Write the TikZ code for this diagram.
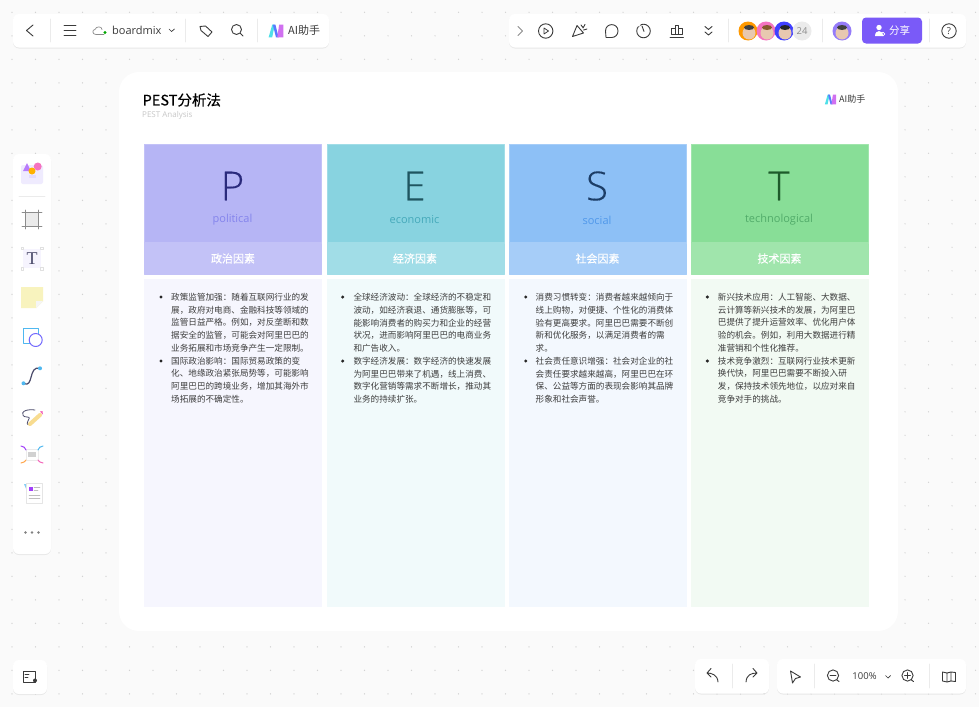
\documentclass[tikz,border=0pt]{standalone}
\usepackage{fontspec}
\setmainfont{Noto Sans CJK SC}
\newfontfamily\medfont[FakeBold=0.35]{Noto Sans CJK SC}
\newfontfamily\bigfont[UprightFont=* Light,FakeBold=0.2]{Open Sans}
\newfontfamily\latinfont{Open Sans}
\newfontfamily\slabfont{Liberation Serif}
\usetikzlibrary{shadows}
\definecolor{colP}{HTML}{B6B5F5}\definecolor{colPlight}{HTML}{C3C2F7}\definecolor{colPbody}{HTML}{F6F6FE}\definecolor{colPbig}{HTML}{2A2A7C}\definecolor{colPsub}{HTML}{8484EC}
\definecolor{colE}{HTML}{88D3E0}\definecolor{colElight}{HTML}{A1DDE7}\definecolor{colEbody}{HTML}{F1FAFB}\definecolor{colEbig}{HTML}{1F5560}\definecolor{colEsub}{HTML}{45A9BA}
\definecolor{colS}{HTML}{8DC0F6}\definecolor{colSlight}{HTML}{A6CDF8}\definecolor{colSbody}{HTML}{F3F8FE}\definecolor{colSbig}{HTML}{1C3D66}\definecolor{colSsub}{HTML}{5098EA}
\definecolor{colT}{HTML}{88DE97}\definecolor{colTlight}{HTML}{A0E5AC}\definecolor{colTbody}{HTML}{F2FAF3}\definecolor{colTbig}{HTML}{1E5A2B}\definecolor{colTsub}{HTML}{52AC6A}
\definecolor{canvas}{HTML}{FAFAFA}\definecolor{griddot}{HTML}{D2D2D2}\definecolor{ink}{HTML}{3A3A3A}\definecolor{violet}{HTML}{7A5AF8}
\definecolor{slate}{HTML}{4A4A6A}\definecolor{sky}{HTML}{4FB8F0}\definecolor{skin}{HTML}{E8C8B0}\definecolor{sticky}{HTML}{F8F3BE}\definecolor{pen}{HTML}{F8DC90}
\definecolor{logoA}{HTML}{4FE0E8}\definecolor{logoB}{HTML}{5A78FF}\definecolor{logoC}{HTML}{D070F0}
\tikzset{ailogo/.pic={
  \fill[logoA] (-7,6) -- (-3.6,-6) -- (-1.2,-6) -- (-3.6,6) -- cycle;
  \fill[logoB] (-3,-6) -- (-0.5,-6) -- (2.5,6) -- (0,6) -- cycle;
  \fill[logoC] (1.2,6) -- (3,-6) -- (7,-6) -- (7,6) -- cycle;
}}
\begin{document}
\begin{tikzpicture}[x=1pt,y=-1pt,line cap=round,line join=round]
\tikzstyle{bar}=[fill=white,rounded corners=6pt,drop shadow={shadow xshift=0pt,shadow yshift=-1pt,opacity=.07,fill=black}]
\tikzstyle{icon}=[draw=ink,line width=.9pt]
\tikzstyle{sep}=[draw=black!8,line width=.6pt]
\tikzstyle{headbox}=[draw=col\k light,line width=.8pt,inner sep=0pt,anchor=north west,minimum width=177pt]
\tikzstyle{bodytext}=[anchor=north west,inner sep=0pt,align=left,text=black!76,font=\fontsize{8.6}{12.75}\selectfont]
\useasboundingbox (0,0) rectangle (979,707);
\fill[canvas] (0,0) rectangle (979,707);
\foreach \i in {0,...,41}
	\foreach \j in {0,...,29}
		\fill[griddot] (12+23.5*\i,12.3+23.5*\j) circle (.7pt);
\fill[white,rounded corners=20pt] (119,72) rectangle (898,631);
\node[anchor=west,inner sep=0pt,font=\fontsize{14.5}{15}\medfont] (title) at (142.5,100) {PEST分析法};
\node[anchor=west,inner sep=0pt,text=black!22,font=\fontsize{8}{8}\latinfont] (subtitle) at (142,115.5) {PEST Analysis};
\pic[scale=.8] at (830.5,99.5) {ailogo};
\node[anchor=west,inner sep=0pt,font=\fontsize{9}{9}\selectfont,text=ink] (brand) at (839,99.5) {AI助手};
\foreach \k/\x/\cx/\sub/\cn in {P/144/233/political/政治因素,E/326.7/415/economic/经济因素,S/509/597.5/social/社会因素,T/691/779.5/technological/技术因素}{
	\node[headbox,fill=col\k,minimum height=98pt] (head\k) at (\x,144.3) {};
	\node[headbox,fill=col\k light,minimum height=31pt] (band\k) at (\x,243) {};
	\fill[col\k body] (\x,279.3) rectangle (\x+178,607);
	\node[text=col\k big,font=\fontsize{40}{40}\bigfont,inner sep=0pt] (letter\k) at (\cx-.5,186) {\k};
	\node[text=col\k sub,font=\fontsize{11}{11}\latinfont,inner sep=0pt] (sub\k) at (\cx-.5,220) {\sub};
	\node[text=white,font=\fontsize{11}{11}\medfont,inner sep=0pt] (cn\k) at (\cx,258.5) {\cn};
}
\node[bodytext] (textP) at (171,293) {政策监管加强：随着互联网行业的发\\展，政府对电商、金融科技等领域的\\监管日益严格。例如，对反垄断和数\\据安全的监管，可能会对阿里巴巴的\\业务拓展和市场竞争产生一定限制。\\国际政治影响：国际贸易政策的变\\化、地缘政治紧张局势等，可能影响\\阿里巴巴的跨境业务，增加其海外市\\场拓展的不确定性。};
\node[bodytext] (textE) at (353.3,293) {全球经济波动：全球经济的不稳定和\\波动，如经济衰退、通货膨胀等，可\\能影响消费者的购买力和企业的经营\\状况，进而影响阿里巴巴的电商业务\\和广告收入。\\数字经济发展：数字经济的快速发展\\为阿里巴巴带来了机遇，线上消费、\\数字化营销等需求不断增长，推动其\\业务的持续扩张。};
\node[bodytext] (textS) at (535.5,293) {消费习惯转变：消费者越来越倾向于\\线上购物，对便捷、个性化的消费体\\验有更高要求。阿里巴巴需要不断创\\新和优化服务，以满足消费者的需\\求。\\社会责任意识增强：社会对企业的社\\会责任要求越来越高，阿里巴巴在环\\保、公益等方面的表现会影响其品牌\\形象和社会声誉。};
\node[bodytext] (textT) at (717.7,293) {新兴技术应用：人工智能、大数据、\\云计算等新兴技术的发展，为阿里巴\\巴提供了提升运营效率、优化用户体\\验的机会。例如，利用大数据进行精\\准营销和个性化推荐。\\技术竞争激烈：互联网行业技术更新\\换代快，阿里巴巴需要不断投入研\\发，保持技术领先地位，以应对来自\\竞争对手的挑战。};
\foreach \x in {161,342.7,525.7,707.3}
	\foreach \y in {297,361}
		\fill[black!85] (\x,\y) circle (1.7pt);
\fill[bar] (13,14) rectangle (329,47.5);
\fill[bar] (509,14) rectangle (966,47.5);
\fill[bar] (13,154) rectangle (51,554);
\fill[bar] (13,660) rectangle (47,694);
\fill[bar] (695,659) rectangle (769,693.5);
\fill[bar] (777,659) rectangle (966,693.5);
\foreach \x in {50.5,185.5,257.5,728.5,822.5,929}
	\draw[sep] (\x,19) -- (\x,42);
\foreach \x in {732,814.5,929}
	\draw[sep] (\x,664) -- (\x,688);
\draw[sep] (19,196.3) -- (45,196.3);
\draw[icon] (33,25) -- (26.5,30.5) -- (33,36);
\draw[icon] (64,25.5) -- (76,25.5) (64,30.5) -- (76,30.5) (64,35.5) -- (76,35.5);
\draw[draw=black!45,line width=.7pt] (104,34.5) -- (96,34.5) .. controls (92,34.5) and (92,29.5) .. (95,29.5) .. controls (96,26) and (102,26) .. (102,29.5);
\fill[green!65!black] (105,32.5) circle (1.7pt);
\node[anchor=west,inner sep=0pt,text=ink,font=\fontsize{11}{12}\latinfont] (boardmix) at (112,30.5) {boardmix};
\draw[icon,line width=.7pt] (169,29) -- (171.5,31.5) -- (174.5,29);
\draw[icon] (200,26.5) -- (205.5,26) -- (212,32) -- (208,36.5) -- (201,30.5) -- cycle;
\draw[icon] (236.5,29.5) circle (5pt) (240.5,33.5) -- (243,36);
\pic[scale=1.05] at (276,31) {ailogo};
\node[anchor=west,inner sep=0pt,text=ink,font=\fontsize{11}{11}\selectfont] (assistant) at (288,30.5) {AI助手};
\draw[draw=black!45,line width=.8pt] (518,26.5) -- (522.5,31) -- (518,35.5);
\draw[icon] (545.7,31) circle (7.2pt);
\draw[icon,line width=.8pt] (544,28) -- (548.5,31) -- (544,34) -- cycle;
\draw[icon] (572.5,36.5) -- (577,25.5) -- (583.5,33) -- cycle (581,25) -- (583,27.5) (585,24.5) -- (583,28) (587,29) -- (583.5,30);
\draw[icon] (611.5,37.5) -- (606,37.5) -- (605.5,31) .. controls (605.5,22.5) and (618,22.5) .. (618,31) .. controls (618,35) and (615,37.5) .. (611.5,37.5);
\draw[icon] (643.5,31) circle (6.8pt) (642,26) -- (644,31.5);
\draw[white,line width=1.4pt] (638.5,25.8) -- (640,24.5);
\draw[icon] (670,37) -- (683.5,37) (671.5,34.5) -- (671.5,28.5) -- (675,28.5) (675,34.5) -- (675,25.5) -- (678.5,25.5) -- (678.5,34.5) -- (671.5,34.5) (678.5,28.5) -- (682,28.5) -- (682,34.5) -- (678.5,34.5);
\draw[icon] (705,26.5) -- (708.5,29.5) -- (712,26.5) (705,32) -- (708.5,35) -- (712,32);
\foreach \x/\ring/\hair in {748/orange!80!yellow/black!75,766/magenta!55/brown!70!black,784/blue!75/black!85}{
	\fill[\ring] (\x,31) circle (9.5pt);
	\fill[skin] (\x+1,33) circle (6.5pt);
	\fill[\hair] (\x+1,27.5) ellipse (5pt and 2.5pt);
}
\fill[black!8] (802,31) circle (9.5pt);
\node[inner sep=0pt,text=black!45,font=\fontsize{9.5}{10}\latinfont] (members) at (802,31) {24};
\fill[violet!80] (842,31) circle (9.5pt);
\fill[skin] (842,33) circle (6.5pt);
\fill[black!75] (842,27.5) ellipse (5pt and 2.5pt);
\fill[violet,rounded corners=4pt] (862,17.5) rectangle (922,43.5);
\fill[white] (879,27.5) circle (2.7pt) (875,36) .. controls (875,29.5) and (883,29.5) .. (883,36) -- cycle;
\draw[white,line width=.7pt] (883,34) circle (1.8pt);
\node[text=white,inner sep=0pt,font=\fontsize{10.5}{11}\selectfont] (share) at (899.5,30.5) {分享};
\draw[icon] (949,31) circle (7.2pt);
\node[inner sep=0pt,text=ink,font=\fontsize{9.5}{10}\latinfont] (help) at (949,31) {?};
\fill[violet!12,rounded corners=2pt] (21,165) rectangle (43,184);
\fill[violet!75!magenta!70!white] (23,171) -- (27,163) -- (31,171) -- cycle;
\fill[magenta!55] (37.7,166.5) circle (4pt);
\fill[orange!60!yellow] (32,171) circle (3.5pt);
\fill[violet!22] (29,175) rectangle (36,178);
\draw[draw=black!60,line width=1pt,fill=black!8] (25,212.7) rectangle (38.3,226);
\draw[draw=black!45,line width=.8pt] (22,212.7) -- (42,212.7) (22,226) -- (42,226) (25,210) -- (25,229) (38.3,210) -- (38.3,229);
\fill[violet!7] (23,249) rectangle (41,268);
\fill[white,draw=black!12,line width=.4pt] (21,247) rectangle (23.5,249.5) (40.5,247) rectangle (43,249.5) (21,267.5) rectangle (23.5,270) (40.5,267.5) rectangle (43,270);
\node[inner sep=0pt,text=slate,font=\fontsize{18}{18}\slabfont] (tool) at (32,258.5) {T};
\fill[sticky] (21,287) -- (43,287) -- (43,301) -- (36,308) -- (21,308) -- cycle;
\fill[black!4] (43,301) -- (36,301) -- (36,308) -- cycle;
\draw[sky,line width=.9pt] (23,328.5) rectangle (38,343);
\draw[blue!55!violet!70!white,line width=1pt,fill=white] (35.7,340) circle (6.5pt);
\draw[slate,line width=1.2pt] (23.5,383.3) .. controls (34,389) and (28,365) .. (40,368.3);
\fill[sky] (23.5,383.3) circle (2pt) (40,368.3) circle (2pt);
\draw[slate,line width=.8pt] (35,410) .. controls (20,408) and (20,417) .. (27,417) .. controls (34,417) and (22,424) .. (30,425);
\draw[pen,line width=4pt] (30,424) -- (40,415);
\fill[magenta!60] (40,411.5) -- (43,414.5) -- (42.5,411) -- cycle;
\fill[white,draw=black!8,line width=.5pt] (26,449.5) rectangle (38,460);
\fill[black!18] (28,452) rectangle (36,457);
\draw[violet!70!magenta,line width=1pt] (21,446) .. controls (24,446) and (25,448) .. (26,450);
\draw[sky,line width=1pt] (43,446) .. controls (40,446) and (39,448) .. (38,450);
\draw[orange!70,line width=1pt] (21,463) .. controls (24,463) and (25,461) .. (26,460);
\draw[magenta!60,line width=1pt] (43,463) .. controls (40,463) and (39,461) .. (38,460);
\fill[sky!70] (24,484) -- (30,484) -- (30,498) -- cycle;
\draw[black!10,fill=white,line width=.5pt] (26,483) rectangle (42,503);
\fill[violet!70!magenta] (28.5,487) rectangle (32.5,491);
\draw[black!25,line width=.5pt] (34,487) -- (40,487) (34,490) -- (38,490) (29,495) -- (40,495) (29,498) -- (40,498);
\foreach \x in {25.5,32,38.5}
	\fill[black!50] (\x,532.5) circle (1.4pt);
\draw[icon,line width=.8pt] (23,671.5) rectangle (35.5,682) (25,674.5) -- (29,674.5) (25,677.5) -- (28,677.5);
\fill[ink] (35,680.5) circle (2pt);
\draw[icon] (718,682) .. controls (717.5,675) and (712,673) .. (707,673) (711,668.5) -- (707,673) -- (711,677);
\draw[icon] (746,682) .. controls (746.5,675) and (751,673) .. (757,673) (753,668.5) -- (757,673) -- (753,677);
\draw[icon] (790.5,671) -- (800.5,677) -- (795.5,678.5) -- (792.5,683) -- cycle;
\draw[icon] (833,675.5) circle (5.6pt) (830,675.5) -- (836,675.5) (837,680) -- (839,681.5);
\node[inner sep=0pt,text=ink,font=\fontsize{9.5}{10}\latinfont] (zoomlevel) at (864.5,676.5) {100\%};
\draw[icon,line width=.7pt] (885.5,675.5) -- (888,678) -- (890.5,675.5);
\draw[icon] (907.5,675.5) circle (5.6pt) (904.5,675.5) -- (910.5,675.5) (907.5,672.5) -- (907.5,678.5) (911.5,680) -- (913.5,681.5);
\draw[icon] (942.5,672) -- (947,673) -- (951,672) -- (955.5,672.5) -- (955.5,681.5) -- (951,681) -- (947,682) -- (942.5,681) -- cycle (947,673) -- (947,682) (951,672) -- (951,681);
\end{tikzpicture}
\end{document}
